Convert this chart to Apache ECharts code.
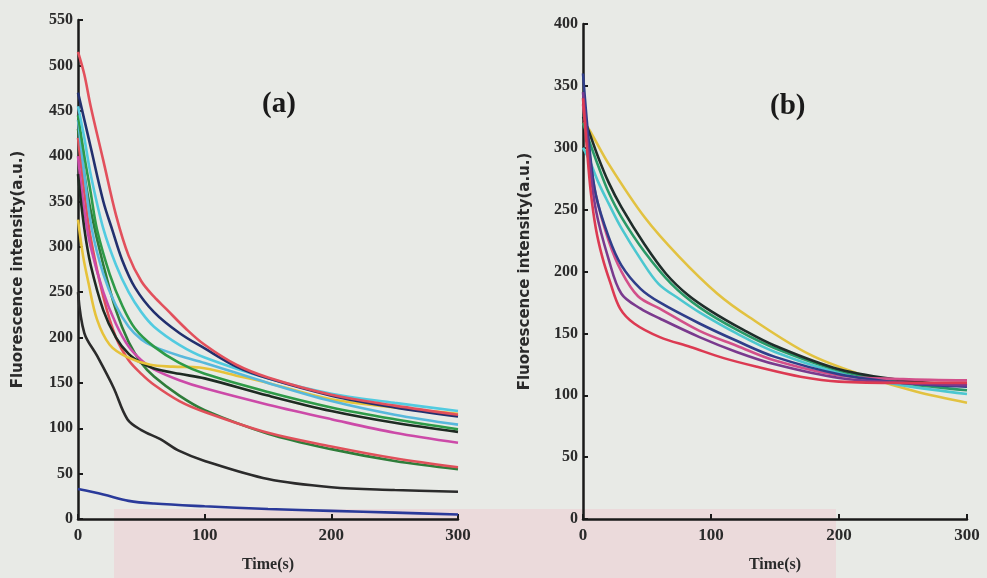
<!DOCTYPE html>
<html>
<head>
<meta charset="utf-8">
<script src="https://cdn.jsdelivr.net/npm/echarts@6/dist/echarts.min.js"></script>
<style>
  html, body { margin: 0; padding: 0; background: #e8eae6; }
  #chart { width: 987px; height: 578px; }
</style>
</head>
<body>
<div id="chart"></div>
<script>
// Panel (a): fluorescence decay curves, [time (s), intensity (a.u.)]
const aRed      = [[0,515],[5,490],[10,455],[20,395],[30,335],[40,290],[50,262],[60,245],[70,231],[85,210],[100,192],[125,170],[150,156],[200,137],[250,125],[300,115]];
const aNavy     = [[0,470],[5,440],[10,410],[20,350],[27,319],[35,285],[45,255],[60,228],[80,205],[100,188],[125,168],[150,155],[200,136],[250,123],[300,113]];
const aCyan     = [[0,455],[5,420],[10,380],[20,320],[30,280],[40,250],[50,228],[60,212],[80,192],[100,178],[150,155],[200,138],[250,128],[300,119]];
const aGreen    = [[0,445],[5,400],[10,360],[15,319],[25,270],[35,235],[45,210],[60,190],[80,172],[100,160],[150,140],[200,123],[250,110],[300,99]];
const aSky      = [[0,440],[5,380],[11,319],[20,270],[30,235],[40,212],[50,198],[60,190],[80,180],[100,172],[150,150],[200,130],[250,115],[300,104]];
const aYellow   = [[0,330],[4,290],[8,262],[15,220],[25,192],[38,179],[57,170],[75,168],[96,167],[125,158],[150,150],[200,132],[250,123],[300,116]];
const aBlack    = [[0,380],[5,320],[10,280],[20,230],[30,200],[40,182],[50,172],[60,166],[80,160],[100,155],[150,136],[200,119],[250,106],[300,96]];
const aMagenta  = [[0,400],[5,340],[10,300],[20,250],[30,215],[40,190],[50,175],[60,165],[80,153],[100,144],[150,126],[200,110],[250,95],[300,84]];
const aRedLow   = [[0,420],[5,360],[10,310],[20,245],[30,200],[40,175],[50,160],[60,148],[80,130],[100,118],[150,95],[200,80],[250,67],[300,57]];
const aGreenLow = [[0,430],[5,380],[10,340],[20,280],[30,230],[40,195],[50,172],[60,157],[80,136],[100,120],[150,94],[200,77],[250,64],[300,55]];
const aGray     = [[0,250],[5,205],[15,180],[28,145],[39,110],[50,98],[65,88],[80,75],[100,64],[150,44],[200,35],[250,32],[300,30]];
const aBlue     = [[0,33],[20,27],[40,20],[60,17],[100,14],[150,11],[200,9],[250,7],[300,5]];

// Panel (b)
const bNavy     = [[0,360],[5,300],[10,262],[20,228],[30,205],[45,186],[60,175],[91,158],[120,144],[150,131],[200,117],[250,110],[300,107]];
const bPurple   = [[0,345],[5,290],[10,250],[20,210],[30,182],[45,170],[60,162],[91,147],[120,135],[150,125],[200,114],[250,110],[300,108]];
const bPink     = [[0,335],[5,295],[10,262],[20,225],[30,200],[43,180],[60,170],[91,152],[120,140],[150,128],[200,116],[250,113],[300,112]];
const bCyan     = [[0,300],[5,290],[12,272],[20,255],[30,235],[45,210],[59,190],[75,178],[91,167],[120,150],[150,135],[200,118],[250,108],[300,101]];
const bGreen    = [[0,320],[5,305],[12,285],[20,264],[30,244],[48,216],[69,190],[91,171],[120,153],[150,138],[200,120],[250,110],[300,104]];
const bBlack    = [[0,325],[5,312],[12,292],[20,272],[30,252],[48,222],[65,198],[82,181],[100,168],[125,153],[150,140],[200,121],[250,112],[300,108]];
const bRed      = [[0,340],[3,300],[6,265],[10,235],[15,212],[21,192],[29,170],[40,158],[60,147],[84,139],[110,130],[136,123],[170,115],[200,111],[250,110],[300,110]];
const bYellow   = [[0,320],[4,316],[20,287],[48,244],[75,212],[105,182],[130,163],[177,133],[222,115],[260,103],[300,94]];

const xTicks = [0, 100, 200, 300];
const yTicksA = [0, 50, 100, 150, 200, 250, 300, 350, 400, 450, 500, 550];
const yTicksB = [0, 50, 100, 150, 200, 250, 300, 350, 400];

const panelA = [
  [aBlue, '#2a3a9a'], [aGray, '#2b2b2b'], [aGreenLow, '#2f7d3a'], [aRedLow, '#e0505a'],
  [aMagenta, '#cc4aa8'], [aBlack, '#1e2a22'], [aYellow, '#e6c23a'], [aSky, '#58b8dc'],
  [aGreen, '#2e9a48'], [aCyan, '#52cbe0'], [aNavy, '#22306e'], [aRed, '#e2505c']
];
const panelB = [
  [bYellow, '#e2c240'], [bCyan, '#4cc7d0'], [bGreen, '#2a9a68'], [bBlack, '#1f2d2a'],
  [bPink, '#d2508a'], [bNavy, '#303e8a'], [bPurple, '#7a3a8e'], [bRed, '#dc3a52']
];

const serif = '"Liberation Serif", "DejaVu Serif", serif';
const sans = '"DejaVu Sans", "Noto Sans", sans-serif';

function xAxis(idx) {
  return {
    type: 'value', gridIndex: idx, min: xTicks[0], max: xTicks[xTicks.length - 1], interval: 100,
    name: 'Time(s)', nameLocation: 'middle', nameGap: 38,
    nameTextStyle: { fontFamily: serif, fontSize: 16, fontWeight: 'bold', color: '#2a2a2a' },
    axisLine: { onZero: false, lineStyle: { color: '#1a1a1a', width: 2.5 } },
    axisTick: { inside: true, length: 5, lineStyle: { color: '#1a1a1a', width: 2 } },
    axisLabel: { fontFamily: serif, fontSize: 17, fontWeight: 'bold', color: '#2a2a2a', margin: 8 },
    splitLine: { show: false }
  };
}
function yAxis(idx, ticks, gap) {
  return {
    type: 'value', gridIndex: idx, min: 0, max: ticks[ticks.length - 1], interval: 50,
    name: 'Fluorescence intensity(a.u.)', nameLocation: 'middle', nameGap: gap, nameRotate: 90,
    nameTextStyle: { fontFamily: sans, fontSize: 15, fontWeight: 'bold', color: '#2a2a2a' },
    axisLine: { lineStyle: { color: '#1a1a1a', width: 2.5 } },
    axisTick: { inside: true, length: 5, lineStyle: { color: '#1a1a1a', width: 2 } },
    axisLabel: { fontFamily: serif, fontSize: 16, fontWeight: 'bold', color: '#2a2a2a', margin: 5 },
    splitLine: { show: false }
  };
}

function buildSeries(list, idx) {
  return list.map(([pts, color]) => ({
    type: 'line', xAxisIndex: idx, yAxisIndex: idx, data: pts,
    smooth: 0.35, showSymbol: false, silent: true,
    lineStyle: { color: color, width: 2.6 }
  }));
}

const chart = echarts.init(document.getElementById('chart'), null, { renderer: 'canvas' });
chart.setOption({
  backgroundColor: '#e8eae6',
  animation: false,
  grid: [
    { left: 78, top: 20, width: 380, height: 500 },
    { left: 583, top: 24, width: 384, height: 504 }
  ],
  xAxis: [xAxis(0), xAxis(1)],
  yAxis: [yAxis(0, yTicksA, 52), yAxis(1, yTicksB, 50)],
  graphic: [
    {
      type: 'rect', z: -1, silent: true,
      shape: { x: 114, y: 509, width: 722, height: 69 },
      style: { fill: 'rgba(236, 206, 212, 0.6)' }
    },
    {
      type: 'text', left: 262, top: 90,
      style: { text: '(a)', font: 'bold 29px ' + serif, fill: '#1a1a1a' }
    },
    {
      type: 'text', left: 770, top: 92,
      style: { text: '(b)', font: 'bold 29px ' + serif, fill: '#1a1a1a' }
    }
  ],
  series: buildSeries(panelA, 0).concat(buildSeries(panelB, 1))
});
</script>
</body>
</html>
